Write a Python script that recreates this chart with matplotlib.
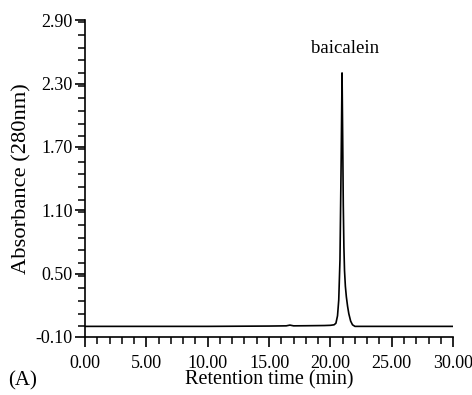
import matplotlib
matplotlib.use("Agg")
import matplotlib.pyplot as plt
from matplotlib.ticker import MultipleLocator, FormatStrFormatter

# ── Data ─────────────────────────────────────────────────────────────────────
time_min = [0.0, 5.0, 10.0, 15.0, 16.4, 16.7, 17.0, 18.0, 19.5, 20.0, 20.3,
            20.45, 20.58, 20.68, 20.78, 20.88, 20.95, 21.0, 21.05, 21.1,
            21.15, 21.22, 21.3, 21.4, 21.5, 21.65, 21.8, 22.0, 25.0, 30.0]
absorbance = [0.0, 0.0, 0.0, 0.003, 0.005, 0.012, 0.005, 0.006, 0.008, 0.01,
              0.015, 0.03, 0.1, 0.25, 0.63, 1.6, 2.40, 1.8, 1.15, 0.75,
              0.53, 0.38, 0.28, 0.19, 0.12, 0.05, 0.015, 0.0, 0.0, 0.0]

peak_name = "baicalein"
peak_label_pos = (21.2, 2.63)

x_ticks = [0, 5, 10, 15, 20, 25, 30]
y_ticks = [-0.10, 0.50, 1.10, 1.70, 2.30, 2.90]

plt.rcParams["font.family"] = ["Liberation Serif", "DejaVu Serif"]

fig = plt.figure(figsize=(4.72, 3.95), dpi=100)
ax = fig.add_axes([0.180, 0.147, 0.780, 0.802])

ax.plot(time_min, absorbance, color="black", linewidth=1.2)
ax.text(*peak_label_pos, peak_name, ha="center", va="center", fontsize=13.5)

ax.set_xlim(0, 30)
ax.set_ylim(-0.10, 2.90)
ax.set_xticks(x_ticks)
ax.set_yticks(y_ticks)
ax.xaxis.set_major_formatter(FormatStrFormatter("%.2f"))
ax.yaxis.set_major_formatter(FormatStrFormatter("%.2f"))
ax.xaxis.set_minor_locator(MultipleLocator(1))
ax.yaxis.set_minor_locator(MultipleLocator(0.12))

for side in ("top", "right"):
    ax.spines[side].set_visible(False)
for side in ("left", "bottom"):
    ax.spines[side].set_linewidth(1.2)

ax.tick_params(which="major", direction="out", length=7, width=1.2, labelsize=13)
ax.tick_params(axis="x", which="major", pad=6)
ax.tick_params(axis="y", which="major", pad=2)
ax.tick_params(which="minor", direction="out", length=5, width=1.1)

ax.set_xlabel("Retention time (min)", fontsize=14.5, labelpad=-1)
ax.set_ylabel("Absorbance (280nm)", fontsize=16.2, labelpad=3)
fig.text(0.048, 0.035, "(A)", fontsize=15, ha="center", va="center")

fig.savefig("out.png", dpi=100)
